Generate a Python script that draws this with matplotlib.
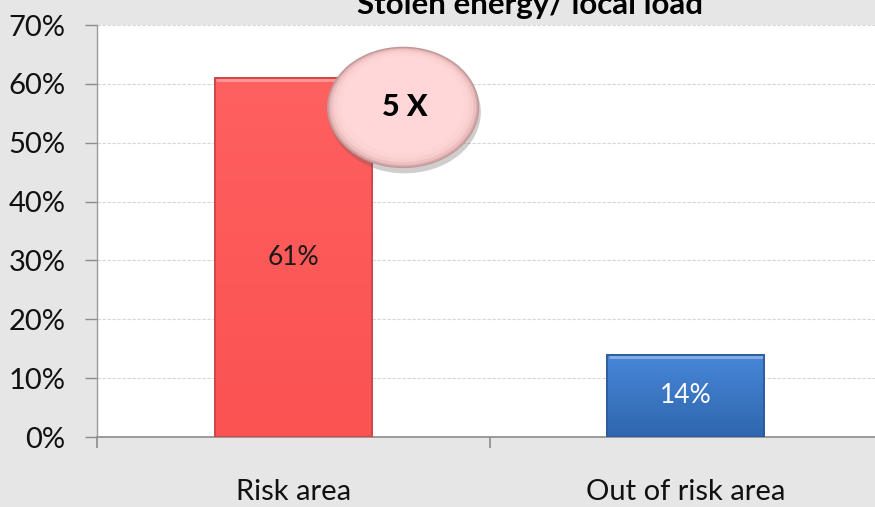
import matplotlib
matplotlib.use("Agg")
import matplotlib.pyplot as plt
import numpy as np
from matplotlib.patches import Ellipse
from matplotlib.colors import LinearSegmentedColormap
from matplotlib.ticker import MultipleLocator, FixedLocator, PercentFormatter

categories = ["Risk area", "Out of risk area"]
values = [61, 14]
bar_labels = ["61%", "14%"]
title = "Stolen energy/ local load"
badge_text = "5 X"

plt.rcParams['font.family'] = ['Lato', 'DejaVu Sans']

W, H = 875, 507
fig = plt.figure(figsize=(W / 100, H / 100), dpi=100)
fig.patch.set_facecolor('#e6e6e6')
ax = fig.add_axes([97 / W, (H - 437) / H, (882 - 97) / W, (437 - 25) / H])
ax.set_facecolor('white')

x = np.arange(len(categories))
face = ['#ff5757', '#3b7bcb']
edge = ['#c94444', '#2b5a98']
grads = [('#ff6060', '#fb5252'), ('#4787d8', '#2f66ae')]
bars = ax.bar(x, values, width=0.4, color=face, edgecolor=edge, linewidth=1.2, zorder=3)

# vertical gradient fill clipped to each bar (top colour -> bottom colour)
for b, (c_top, c_bot) in zip(bars, grads):
    x0, y0, w, h = b.get_x(), b.get_y(), b.get_width(), b.get_height()
    grad = np.linspace(0, 1, 256).reshape(-1, 1)
    cmap = LinearSegmentedColormap.from_list('g', [c_top, c_bot])
    im = ax.imshow(grad, extent=(x0, x0 + w, y0, y0 + h), aspect='auto', cmap=cmap,
                   zorder=3.1, origin='upper')
    im.set_clip_path(b)
    ax.plot([x0 + 0.004, x0 + w - 0.004], [y0 + h - 0.35, y0 + h - 0.35],
            color='white', alpha=0.35, lw=2, zorder=3.2, solid_capstyle='butt')
    ax.bar(b.get_x() + w / 2, h, width=w, fill=False, edgecolor=b.get_edgecolor(),
           linewidth=1.2, zorder=3.3)

label_colors = ['#1a1a1a', 'white']
for xi, v, lab, c in zip(x, values, bar_labels, label_colors):
    ax.text(xi, v / 2, lab, ha='center', va='center', fontsize=19, color=c, zorder=4)

ax.set_xlim(-0.5, 1.5)
ax.set_ylim(0, 70)
ax.yaxis.set_major_locator(MultipleLocator(10))
ax.yaxis.set_major_formatter(PercentFormatter(decimals=0))
ax.grid(axis='y', linestyle=(0, (3, 1.5)), color='#d6d6d6', linewidth=0.8, zorder=0)
ax.set_axisbelow(True)

ax.set_xticks(x)
ax.set_xticklabels(categories)
ax.xaxis.set_minor_locator(FixedLocator([-0.5, 0.5, 1.5]))
ax.tick_params(axis='x', which='major', length=0, pad=30, labelsize=21, labelcolor='#111111')
ax.tick_params(axis='x', which='minor', length=8, width=1.2, color='#8c8c8c', direction='out')
ax.tick_params(axis='y', which='major', length=8.5, width=1.0, color='#8c8c8c',
               direction='out', pad=14, labelsize=21, labelcolor='#111111')

for s in ['top', 'right']:
    ax.spines[s].set_visible(False)
ax.spines['left'].set_color('#9a9a9a')
ax.spines['bottom'].set_color('#8c8c8c')
ax.spines['left'].set_linewidth(1.0)
ax.spines['bottom'].set_linewidth(1.2)

# badge ellipse placed relative to the first bar
b0 = bars[0]
cx = b0.get_x() + b0.get_width() + 0.08
cy = values[0] - 5
ew, eh = 0.384, 20.4
shadow = Ellipse((cx + 0.004, cy - 0.8), ew * 1.01, eh * 1.02, facecolor='#6a5a5a',
                 alpha=0.3, edgecolor='none', zorder=5, clip_on=False)
ax.add_patch(shadow)
rings = ['#d9aaaa', '#eebfc0', '#f8cdce', '#fdd4d5', '#ffd7d8']
scales = [1.0, 0.97, 0.93, 0.88, 0.82]
for col, s in zip(rings, scales):
    ax.add_patch(Ellipse((cx, cy + (1 - s) * 2.5), ew * s, eh * s, facecolor=col,
                         edgecolor='none', zorder=6, clip_on=False))
ax.add_patch(Ellipse((cx, cy), ew, eh, facecolor='none', edgecolor='#c09a9a',
                     linewidth=1.0, zorder=6.2, clip_on=False))
ax.text(cx + 0.005, cy, badge_text, ha='center', va='center', fontsize=22,
        fontweight='black', color='black', zorder=7)

fig.text(530 / W, 1 - 14 / H, title, ha='center', va='baseline', fontsize=22.5,
         fontweight='bold', color='black')

fig.savefig('out.png', dpi=100, facecolor=fig.get_facecolor())
